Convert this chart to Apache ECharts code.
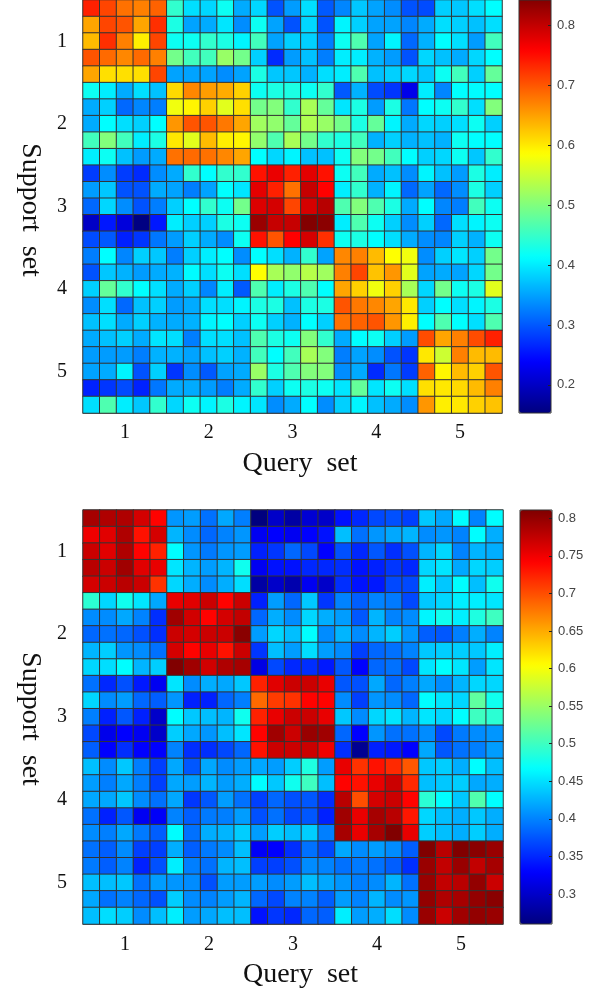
<!DOCTYPE html>
<html><head><meta charset="utf-8">
<style>html,body{margin:0;padding:0;background:#fff}#c{width:595px;height:993px}</style>
<script src="https://cdn.jsdelivr.net/npm/echarts@6/dist/echarts.min.js"></script>
</head><body><div id="c"></div>
<script>
const groupLabels=['1','2','3','4','5'];
const cells=Array.from({length:25},(_,i)=>String(i));
const xName='Query  set', yName='Support  set';
const topTicks=[0.2,0.3,0.4,0.5,0.6,0.7,0.8];
const bottomTicks=[0.3,0.35,0.4,0.45,0.5,0.55,0.6,0.65,0.7,0.75,0.8];
const topRange=[0.153,0.843], bottomRange=[0.26,0.811];
const jet=['#00007f','#0000ff','#007fff','#00ffff','#7fff7f','#ffff00','#ff7f00','#ff0000','#7f0000'];
const topValues=[
[.735,.71,.68,.67,.69,.445,.39,.385,.42,.355,.385,.295,.345,.39,.30,.33,.374,.35,.335,.295,.29,.38,.374,.39,.412],
[.645,.71,.70,.645,.725,.43,.35,.355,.395,.335,.42,.35,.295,.385,.295,.405,.38,.35,.35,.33,.355,.39,.38,.37,.39],
[.63,.725,.67,.595,.71,.42,.42,.445,.43,.405,.456,.35,.38,.38,.325,.42,.465,.35,.405,.31,.36,.412,.39,.345,.456],
[.70,.685,.665,.685,.67,.49,.456,.456,.515,.49,.38,.268,.345,.37,.325,.40,.40,.36,.345,.295,.385,.37,.355,.385,.412],
[.645,.605,.605,.605,.71,.35,.35,.35,.335,.35,.43,.374,.374,.36,.39,.40,.465,.37,.38,.385,.374,.42,.456,.38,.48],
[.42,.40,.355,.39,.37,.61,.665,.65,.64,.615,.42,.43,.43,.42,.445,.30,.36,.29,.275,.225,.40,.33,.412,.41,.412],
[.355,.38,.31,.33,.325,.575,.59,.615,.565,.605,.49,.50,.445,.525,.48,.395,.43,.345,.43,.32,.412,.42,.445,.39,.50],
[.355,.412,.39,.38,.412,.655,.70,.70,.675,.645,.52,.51,.48,.53,.515,.49,.43,.48,.405,.355,.385,.38,.39,.42,.38],
[.456,.50,.456,.40,.43,.60,.565,.63,.595,.59,.51,.465,.525,.49,.445,.43,.456,.36,.38,.36,.37,.36,.42,.412,.412],
[.40,.42,.37,.345,.355,.68,.685,.68,.665,.645,.412,.385,.405,.37,.37,.42,.50,.49,.456,.412,.38,.385,.42,.374,.445],
[.28,.335,.28,.268,.335,.355,.445,.412,.445,.445,.745,.77,.735,.775,.745,.42,.456,.355,.37,.335,.405,.37,.345,.43,.40],
[.345,.374,.295,.295,.355,.35,.325,.35,.412,.395,.775,.735,.68,.795,.757,.40,.445,.36,.405,.31,.35,.31,.335,.43,.38],
[.31,.385,.335,.295,.325,.38,.412,.445,.42,.49,.78,.785,.71,.785,.805,.465,.50,.465,.43,.355,.412,.33,.325,.456,.42],
[.20,.255,.215,.155,.255,.40,.38,.38,.43,.42,.825,.795,.795,.84,.835,.40,.465,.42,.38,.335,.38,.31,.39,.405,.42],
[.29,.30,.26,.275,.32,.345,.38,.355,.335,.42,.745,.70,.757,.785,.725,.42,.43,.412,.39,.355,.335,.33,.38,.36,.42],
[.325,.412,.33,.38,.374,.325,.38,.40,.412,.335,.412,.39,.36,.445,.35,.665,.67,.63,.584,.575,.335,.38,.395,.38,.49],
[.295,.374,.36,.345,.355,.36,.41,.39,.42,.39,.584,.525,.51,.535,.52,.67,.71,.625,.655,.565,.35,.355,.35,.385,.49],
[.38,.48,.445,.412,.39,.355,.38,.33,.40,.30,.465,.40,.43,.465,.412,.645,.615,.575,.615,.525,.385,.49,.42,.43,.565],
[.335,.39,.31,.37,.38,.345,.355,.39,.39,.405,.43,.43,.37,.43,.43,.70,.675,.665,.645,.60,.38,.412,.39,.405,.43],
[.37,.39,.355,.38,.36,.355,.36,.405,.412,.38,.42,.38,.36,.412,.38,.68,.69,.70,.655,.595,.412,.465,.412,.39,.465],
[.355,.37,.38,.355,.395,.39,.325,.39,.39,.37,.465,.43,.42,.50,.445,.355,.412,.42,.38,.345,.705,.645,.67,.705,.735],
[.345,.345,.345,.325,.36,.36,.35,.37,.38,.36,.456,.412,.456,.525,.50,.325,.35,.335,.295,.275,.60,.55,.67,.63,.63],
[.35,.355,.405,.295,.38,.275,.335,.30,.35,.355,.515,.43,.465,.50,.50,.335,.355,.268,.32,.28,.69,.59,.63,.615,.70],
[.262,.275,.29,.262,.32,.355,.355,.345,.325,.355,.445,.38,.42,.43,.42,.395,.48,.395,.42,.39,.605,.60,.61,.63,.67],
[.39,.465,.40,.374,.445,.385,.42,.405,.43,.405,.395,.335,.355,.412,.335,.38,.405,.37,.355,.335,.655,.595,.60,.615,.625]
];
const bottomValues=[
[.79,.785,.785,.765,.741,.41,.414,.39,.42,.3975,.26,.30,.28,.305,.30,.338,.35,.368,.372,.363,.437,.42,.466,.40,.466],
[.75,.758,.785,.733,.765,.427,.405,.385,.40,.41,.322,.329,.322,.329,.338,.432,.39,.41,.42,.427,.405,.41,.40,.466,.423],
[.77,.758,.785,.741,.724,.466,.41,.395,.41,.414,.346,.358,.385,.368,.329,.372,.35,.376,.354,.372,.427,.445,.40,.427,.423],
[.78,.77,.793,.758,.754,.453,.427,.414,.427,.475,.322,.338,.338,.35,.35,.354,.338,.346,.358,.35,.445,.453,.42,.445,.44],
[.765,.77,.78,.77,.715,.445,.423,.405,.423,.449,.28,.30,.285,.322,.30,.354,.338,.342,.368,.368,.458,.437,.466,.432,.475],
[.49,.445,.475,.453,.42,.754,.758,.77,.741,.77,.346,.414,.385,.437,.358,.40,.38,.40,.395,.368,.437,.445,.458,.458,.453],
[.405,.405,.42,.40,.354,.793,.767,.741,.765,.775,.385,.423,.405,.445,.423,.414,.376,.427,.40,.405,.462,.475,.458,.483,.50],
[.385,.39,.385,.372,.354,.77,.765,.77,.77,.805,.414,.445,.432,.466,.405,.427,.405,.427,.44,.41,.38,.376,.3975,.423,.40],
[.427,.44,.41,.405,.39,.765,.741,.754,.733,.77,.358,.432,.414,.449,.414,.405,.363,.385,.39,.40,.437,.44,.44,.437,.458],
[.445,.449,.466,.427,.44,.81,.793,.767,.785,.79,.314,.368,.35,.354,.342,.376,.329,.385,.39,.368,.453,.466,.453,.414,.453],
[.39,.35,.372,.342,.322,.453,.405,.423,.42,.437,.724,.758,.77,.77,.754,.376,.372,.42,.385,.3975,.42,.405,.427,.445,.445],
[.445,.405,.414,.385,.38,.41,.346,.346,.385,.3975,.685,.71,.715,.741,.741,.405,.363,.41,.405,.385,.466,.453,.445,.518,.475],
[.3975,.346,.376,.346,.30,.466,.437,.432,.427,.475,.724,.754,.77,.77,.754,.437,.405,.445,.453,.427,.453,.445,.466,.50,.49],
[.368,.318,.329,.322,.30,.44,.42,.41,.432,.453,.741,.793,.77,.797,.793,.385,.329,.41,.39,.39,.405,.368,.395,.405,.41],
[.38,.329,.354,.329,.329,.40,.354,.354,.368,.385,.733,.77,.77,.77,.75,.354,.27,.346,.342,.329,.42,.376,.39,.3975,.414],
[.432,.405,.437,.3975,.363,.42,.376,.42,.405,.414,.42,.414,.44,.483,.414,.754,.715,.733,.72,.695,.437,.44,.423,.466,.432],
[.414,.3975,.42,.3975,.363,.42,.414,.427,.414,.423,.466,.437,.475,.50,.432,.741,.733,.754,.77,.72,.432,.437,.44,.42,.423],
[.42,.42,.437,.405,.39,.42,.358,.376,.414,.39,.363,.385,.372,.376,.354,.78,.70,.765,.77,.741,.49,.466,.437,.51,.466],
[.39,.346,.376,.322,.325,.40,.38,.395,.3975,.414,.372,.39,.368,.376,.346,.793,.754,.79,.78,.73,.445,.432,.423,.437,.423],
[.405,.3975,.42,.395,.38,.466,.39,.423,.427,.44,.414,.44,.432,.44,.3975,.79,.754,.79,.81,.754,.44,.432,.423,.44,.423],
[.39,.38,.405,.363,.363,.423,.38,.395,.405,.432,.325,.329,.354,.39,.368,.42,.405,.414,.405,.38,.81,.78,.81,.805,.797],
[.395,.38,.40,.346,.372,.458,.3975,.39,.427,.432,.363,.363,.372,.405,.40,.39,.395,.39,.38,.354,.797,.775,.797,.775,.79],
[.432,.432,.437,.39,.414,.41,.405,.372,.414,.414,.414,.405,.414,.432,.42,.41,.3975,.405,.427,.39,.797,.775,.78,.80,.77],
[.42,.39,.40,.385,.372,.44,.405,.40,.414,.427,.385,.368,.40,.40,.38,.414,.40,.427,.405,.41,.80,.785,.79,.80,.805],
[.432,.449,.44,.405,.432,.458,.414,.42,.432,.432,.338,.358,.35,.385,.38,.458,.414,.423,.449,.405,.797,.77,.793,.80,.797]
];
const serif='"Liberation Serif","Times New Roman",serif';
const sans='"Liberation Sans",Arial,sans-serif';
const toCells=m=>m.flatMap((r,y)=>r.map((v,x)=>[x,y,v]));
const axisLine={show:true,onZero:false,lineStyle:{color:'#888',width:1}};
const groupLabel=i=>groupLabels[Math.floor(+i/5)];
const catX=(g,margin,gap)=>({type:'category',gridIndex:g,data:cells,position:'bottom',axisTick:{show:false},axisLine,
  splitLine:{show:false},name:xName,nameLocation:'middle',nameGap:gap,
  nameTextStyle:{fontFamily:serif,fontSize:28,color:'#111',padding:[0,0,0,15]},
  axisLabel:{interval:i=>i%5===2,formatter:groupLabel,fontFamily:serif,fontSize:20,color:'#111',margin}});
const catY=(g,shift)=>({type:'category',gridIndex:g,data:cells,inverse:true,position:'left',axisTick:{show:false},axisLine,
  splitLine:{show:false},name:yName,nameLocation:'middle',nameGap:39,nameRotate:-90,
  nameTextStyle:{fontFamily:serif,fontSize:28,color:'#111',padding:[0,0,0,shift]},
  axisLabel:{interval:i=>i%5===2,formatter:groupLabel,fontFamily:serif,fontSize:20,color:'#111',margin:16}});
const barX=g=>({type:'category',gridIndex:g,data:[''],axisLine:{show:false},axisTick:{show:false},axisLabel:{show:false},z:5});
const barY=(g,r,ticks,fmt)=>({type:'value',gridIndex:g,min:r[0],max:r[1],position:'right',z:5,splitLine:{show:false},
  axisLine:{show:false},
  axisTick:{show:true,inside:true,length:3,lineStyle:{color:'#222'},customValues:ticks},
  axisLabel:{show:true,customValues:ticks,formatter:fmt,fontFamily:sans,fontSize:13,color:'#444',margin:6}});
const grids=[
  {left:83,top:-2,width:419,height:415,show:false},
  {left:83,top:510,width:420,height:414,show:false},
  {left:519,top:-2,width:32,height:415,show:true,backgroundColor:'transparent',borderColor:'#333',borderWidth:1,z:5},
  {left:520,top:510,width:32,height:414,show:true,backgroundColor:'transparent',borderColor:'#333',borderWidth:1,z:5}
];
const heat=(g,m)=>({type:'heatmap',xAxisIndex:g,yAxisIndex:g,data:toCells(m),
  itemStyle:{borderColor:'#333',borderWidth:1},emphasis:{disabled:true},progressive:0,animation:false});
const vm=(idx,r,left,top,h)=>({type:'continuous',seriesIndex:idx,min:r[0],max:r[1],calculable:false,hoverLink:false,
  show:true,left,top,itemWidth:32,itemHeight:h,padding:0,text:null,inRange:{color:jet},z:1});
const chart=echarts.init(document.getElementById('c'),null,{renderer:'canvas'});
chart.setOption({
  animation:false,backgroundColor:'#fff',grid:grids,
  xAxis:[catX(0,10,37),catX(1,11,37),barX(2),barX(3)],
  yAxis:[catY(0,7),catY(1,4),barY(2,topRange,topTicks,v=>String(+(+v).toFixed(1))),barY(3,bottomRange,bottomTicks,v=>String(+(+v).toFixed(2)))],
  visualMap:[vm(0,topRange,519,-2,415),vm(1,bottomRange,520,510,414)],
  series:[heat(0,topValues),heat(1,bottomValues)]
});
</script></body></html>
